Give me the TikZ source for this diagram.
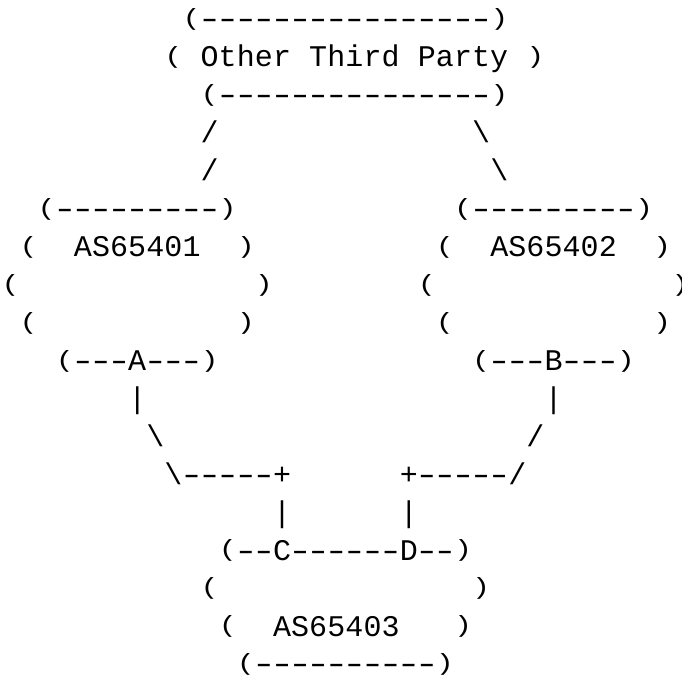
\documentclass[tikz,border=0pt]{standalone}
\usepackage{fontspec}
\usepackage{graphicx}
\setmonofont{Liberation Mono}
\newcommand\mono[1]{\monoA#1\relax}
\def\monoA#1{\ifx\relax#1\else\monoB{#1}\expandafter\monoA\fi}
\def\monoB#1{\makebox[18.1pt][c]{\ifx(#1\raisebox{3.4pt}{\scalebox{1}[0.78]{(}}\else\ifx)#1\raisebox{3.4pt}{\scalebox{1}[0.78]{)}}\else\ifx-#1\scalebox{1.45}[1]{-}\else#1\fi\fi\fi}}
\tikzset{asc/.style={anchor=base west, inner sep=0pt, outer sep=0pt, font=\ttfamily\fontsize{30}{36}\selectfont, text=black}}
\newcommand\asc[4]{\node[asc] (#1) at ({1.5+#2*18.1},{647-(#3-1)*37.94}) {\mono{#4}};}
\begin{document}
\begin{tikzpicture}[x=1pt,y=1pt]
\useasboundingbox (0,0) rectangle (682,676);
% Other Third Party
\asc{topa}{10}{1}{(----------------)}
\asc{topb}{9}{2}{(}
\asc{toplabel}{11}{2}{Other~Third~Party}
\asc{topbr}{29}{2}{)}
\asc{topc}{11}{3}{(---------------)}
\asc{sl1}{11}{4}{/}
\asc{bs1}{26}{4}{\textbackslash}
\asc{sl2}{11}{5}{/}
\asc{bs2}{27}{5}{\textbackslash}
% AS65401 / AS65402
\asc{la}{2}{6}{(---------)}
\asc{ra}{25}{6}{(---------)}
\asc{lb}{1}{7}{(}
\asc{lname}{4}{7}{AS65401}
\asc{lbr}{13}{7}{)}
\asc{rb}{24}{7}{(}
\asc{rname}{27}{7}{AS65402}
\asc{rbr}{36}{7}{)}
\asc{lc}{0}{8}{(}
\asc{lcr}{14}{8}{)}
\asc{rc}{23}{8}{(}
\asc{rcr}{37}{8}{)}
\asc{ld}{1}{9}{(}
\asc{ldr}{13}{9}{)}
\asc{rd}{24}{9}{(}
\asc{rdr}{36}{9}{)}
\asc{le}{3}{10}{(---A---)}
\asc{re}{26}{10}{(---B---)}
% links
\asc{lv1}{7}{11}{|}
\asc{rv1}{30}{11}{|}
\asc{lbs}{8}{12}{\textbackslash}
\asc{rsl}{29}{12}{/}
\asc{lh}{9}{13}{\textbackslash-----+}
\asc{rh}{22}{13}{+-----/}
\asc{lv2}{15}{14}{|}
\asc{rv2}{22}{14}{|}
% AS65403
\asc{ba}{12}{15}{(--C------D--)}
\asc{bb}{11}{16}{(}
\asc{bbr}{26}{16}{)}
\asc{bc}{12}{17}{(}
\asc{bname}{15}{17}{AS65403}
\asc{bcr}{25}{17}{)}
\asc{bd}{13}{18}{(----------)}
\end{tikzpicture}
\end{document}
